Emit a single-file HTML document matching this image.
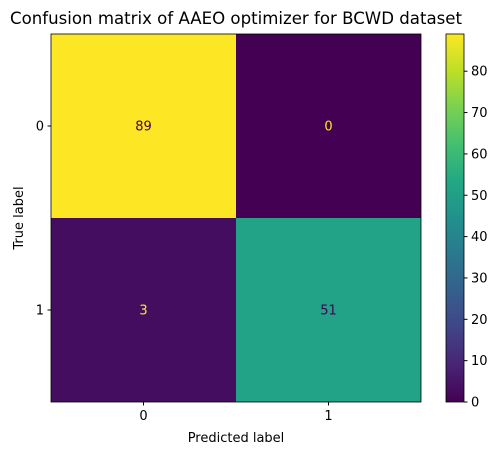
<!DOCTYPE html>
<html><head><meta charset="utf-8"><style>
body{margin:0;background:#fff;}
svg{font-family:"DejaVu Sans","Liberation Sans",sans-serif;}
</style></head><body>
<svg id="chart" width="501" height="455" xmlns="http://www.w3.org/2000/svg">
<defs><linearGradient id="vir" x1="0" y1="1" x2="0" y2="0">
<stop offset="0" stop-color="#440154"/><stop offset="0.1" stop-color="#482475"/><stop offset="0.2" stop-color="#414487"/><stop offset="0.3" stop-color="#355f8d"/><stop offset="0.4" stop-color="#2a788e"/><stop offset="0.5" stop-color="#21918c"/><stop offset="0.6" stop-color="#22a884"/><stop offset="0.7" stop-color="#44bf70"/><stop offset="0.8" stop-color="#7ad151"/><stop offset="0.9" stop-color="#bddf26"/><stop offset="1" stop-color="#fde725"/>
</linearGradient></defs>
<text x="236" y="24" font-size="16.6" text-anchor="middle">Confusion matrix of AAEO optimizer for BCWD dataset</text>
<g id="cells"></g>
<rect x="446" y="34" width="18" height="368" fill="url(#vir)" stroke="#000" stroke-width="0.8"/>
<g id="cbticks"></g>
<text x="236" y="442" font-size="13" text-anchor="middle">Predicted label</text>
<text x="23" y="218" font-size="13" text-anchor="middle" transform="rotate(-90 23 218)">True label</text>
</svg>
<script>
const labels=["0","1"];
const values=[[89,0],[3,51]];
const cbTicks=[0,10,20,30,40,50,60,70,80];
const vmax=89;
const stops=[[0,68,1,84],[0.1,72,36,117],[0.2,65,68,135],[0.3,53,95,141],[0.4,42,120,142],[0.5,33,145,140],[0.6,34,168,132],[0.7,68,191,112],[0.8,122,209,81],[0.9,189,223,38],[1,253,231,37]];
function vir(t){for(let i=1;i<stops.length;i++){if(t<=stops[i][0]){const a=stops[i-1],b=stops[i],f=(t-a[0])/(b[0]-a[0]);return `rgb(${[1,2,3].map(k=>Math.round(a[k]+f*(b[k]-a[k]))).join(',')})`;}}return 'rgb(253,231,37)';}
const NS="http://www.w3.org/2000/svg";
const X0=51,Y0=34,W=370,H=368;
const cw=W/labels.length,ch=H/labels.length;
const xs=i=>X0+i*cw, ys=i=>Y0+i*ch;
const cbY=v=>402-v/vmax*368;
const g=document.getElementById('cells');
function mk(tag,attrs,parent){const e=document.createElementNS(NS,tag);for(const k in attrs)e.setAttribute(k,attrs[k]);parent.appendChild(e);return e;}
values.forEach((row,r)=>row.forEach((v,c)=>{
 const rect=mk('rect',{x:xs(c),y:ys(r),width:cw,height:ch,fill:vir(v/vmax)},g);
 
 
 const t=mk('text',{x:xs(c)+cw/2,y:ys(r)+ch/2+4.5,'font-size':13,'text-anchor':'middle',fill:v/vmax>0.5?'#440154':'#fde725'},g);
 t.textContent=v;
 
 
}));
mk('rect',{x:X0,y:Y0,width:W,height:H,fill:'none',stroke:'#000','stroke-width':0.8},g);
labels.forEach((l,i)=>{
 const xc=xs(i)+cw/2;
 mk('line',{x1:xc,x2:xc,y1:402,y2:405.5,stroke:'#000'},g);
 const t=mk('text',{x:xc,y:420,'font-size':13,'text-anchor':'middle'},g);t.textContent=l;
 
 
 const yc=ys(i)+ch/2;
 mk('line',{x1:47.5,x2:51,y1:yc,y2:yc,stroke:'#000'},g);
 const u=mk('text',{x:44,y:yc+4.5,'font-size':13,'text-anchor':'end'},g);u.textContent=l;
 
 
});
const cb=document.getElementById('cbticks');
cbTicks.forEach(v=>{
 const y=cbY(v);
 mk('line',{x1:464,x2:467.5,y1:y,y2:y,stroke:'#000'},cb);
 const t=mk('text',{x:471,y:y+4.5,'font-size':13},cb);t.textContent=v;
 
 
});
</script>
</body></html>
